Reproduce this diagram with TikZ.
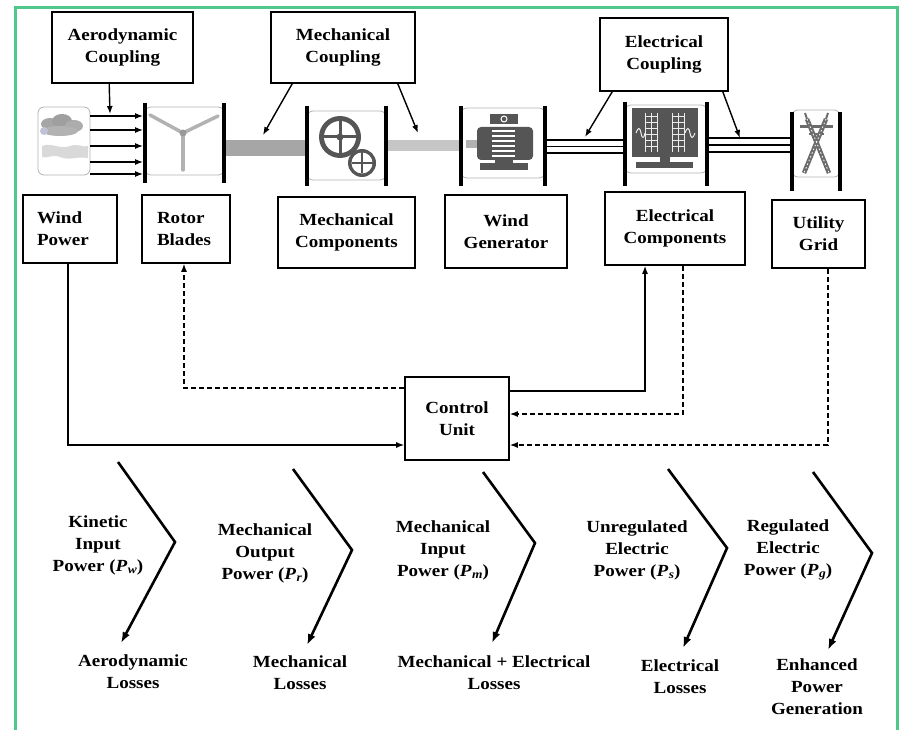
\documentclass[tikz,border=0pt]{standalone}
\usepackage{fontspec}
\setmainfont{Liberation Serif}[FakeStretch=1.12]
\usetikzlibrary{arrows.meta,calc}
\definecolor{gframe}{RGB}{80,200,140}
\definecolor{icondark}{RGB}{85,85,85}
\newcommand\PP[1]{\textit{P}\kern0.5pt\raisebox{-0.35ex}{\fontsize{12}{12}\selectfont\textit{#1}}}
\tikzset{
  txt/.style={font=\bfseries\fontsize{17}{22}\selectfont},
  blk/.style={txt, draw, line width=1.6pt, align=center, inner sep=0pt},
  lbl/.style={txt, align=center, inner sep=0pt},
  arr/.style={-{Latex[length=8pt,width=6pt]}, line width=1.4pt},
  dsh/.style={arr, dash pattern=on 5pt off 3pt},
  barline/.style={line width=4pt},
  iconframe/.style={rounded corners=6pt, draw=gray!60, line width=0.8pt},
  chev/.style={line width=2.6pt, -{Latex[length=11pt,width=8pt]}},
  wline/.style={line width=1.1pt}
}
\begin{document}
\begin{tikzpicture}[x=1pt,y=-1pt]
\useasboundingbox (0,0) rectangle (901,730);
\draw[gframe, line width=3pt] (15,730) -- (15,8) -- (897,8) -- (897,730);

% ---------- boxes ----------
\node[blk, minimum width=141pt, minimum height=71pt] (aero) at (122.5,47.5) {Aerodynamic\\Coupling};
\node[blk, minimum width=144pt, minimum height=71pt] (mechc) at (343,47.5) {Mechanical\\Coupling};
\node[blk, minimum width=128pt, minimum height=73pt] (elecc) at (664,54.5) {Electrical\\Coupling};
\node[blk, align=left, text width=66pt, inner xsep=14pt, minimum height=68pt] (wind) at (70,229) {Wind\\Power};
\node[blk, align=left, text width=58pt, inner xsep=15pt, minimum height=68pt] (rotor) at (186,229) {Rotor\\Blades};
\node[blk, minimum width=137pt, minimum height=71pt] (mechcomp) at (346.5,232.5) {Mechanical\\Components};
\node[blk, minimum width=122pt, minimum height=73pt] (gen) at (506,231.5) {Wind\\Generator};
\node[blk, minimum width=140pt, minimum height=73pt] (eleccomp) at (675,228.5) {Electrical\\Components};
\node[blk, minimum width=93pt, minimum height=68pt] (grid) at (818.5,234) {Utility\\Grid};
\node[blk, minimum width=104pt, minimum height=83pt] (ctrl) at (457,418.5) {Control\\Unit};

% ---------- icons ----------
% wind / cloud
\node[iconframe, minimum width=52pt, minimum height=68pt, inner sep=0pt] (cloud) at (64,141) {};
\fill[gray!70] (50,124) ellipse (9pt and 6pt);
\fill[gray!75] (62,121) ellipse (10pt and 7pt);
\fill[gray!65] (74,126) ellipse (9pt and 6pt);
\fill[gray!60] (60,131) ellipse (18pt and 5pt);
\fill[blue!20!gray!40] (44,131) ellipse (4pt and 4pt);
\fill[gray!30] (42,146) .. controls (52,142) and (60,150) .. (70,146) .. controls (78,143) and (84,148) .. (88,146) -- (88,158) .. controls (78,156) and (70,161) .. (60,157) .. controls (52,154) and (46,159) .. (42,157) -- cycle;
\foreach \yy in {116,130,146,162,174}
  \draw[arr, line width=1.1pt] (cloud.east |- 0,\yy) -- (143,\yy);
% rotor
\draw[iconframe] (145,107) rectangle (224,175);
\draw[gray!60, line width=3.5pt, line cap=round] (183,133) -- (150,115);
\draw[gray!60, line width=3.5pt, line cap=round] (183,133) -- (218,116);
\draw[gray!60, line width=3.5pt, line cap=round] (183,133) -- (183,170);
\fill[gray!80] (183,133) circle (3.5pt);
\draw[barline] (145,103) -- (145,183);
\draw[barline] (224,103) -- (224,183);
% dark shaft
\fill[gray!70] (226,140) rectangle (306,156);
% gear box
\draw[iconframe] (307,111) rectangle (386,180);
\fill[icondark] (340,137) circle (21pt);
\fill[white] (340,137) circle (16pt);
\draw[icondark, line width=3pt] (324,137) -- (356,137) (340,121) -- (340,153);
\fill[icondark] (340,137) circle (3.5pt);
\fill[icondark] (362,163) circle (14pt);
\fill[white] (362,163) circle (10.5pt);
\draw[icondark, line width=2.5pt] (351.5,163) -- (372.5,163) (362,152.5) -- (362,173.5);
\draw[barline] (307,106) -- (307,186);
\draw[barline] (386,106) -- (386,186);
% light shaft
\fill[gray!45] (388,140) rectangle (459,151);
% generator
\draw[iconframe] (461,108) rectangle (545,178);
\fill[gray!60] (466,140) rectangle (478,148);
\fill[icondark, rounded corners=4pt] (477,127) rectangle (533,160);
\foreach \yy in {131,136,141,146,151,156}
  \draw[white, line width=1.6pt] (492,\yy) -- (515,\yy);
\fill[icondark] (490,114) rectangle (518,124);
\draw[white, line width=1pt] (504,119) circle (3pt);
\fill[icondark] (495,159) rectangle (513,164);
\fill[icondark] (480,163) rectangle (528,170);
\draw[barline] (461,106) -- (461,186);
\draw[barline] (545,106) -- (545,186);
% triple lines (gen -> electrical)
\foreach \yy in {140,146.5,153}
  \draw[wline] (547,\yy) -- (623,\yy);
% electrical components icon
\draw[iconframe] (625,105) rectangle (707,173);
\fill[icondark] (632,108) rectangle (698,157);
\foreach \xx in {645,651,657,672,678,684}
  \draw[white!85!gray, line width=0.9pt] (\xx,113) -- (\xx,152);
\foreach \yy in {116,122,128,134,140,146}
  \draw[white!85!gray, line width=0.9pt] (645,\yy) -- (657,\yy) (672,\yy) -- (684,\yy);
\draw[white!85!gray, line width=1pt] (636,133) .. controls (638,127) and (640,127) .. (641,133) .. controls (642,139) and (644,139) .. (645,133);
\draw[white!85!gray, line width=1pt] (685,133) .. controls (687,127) and (689,127) .. (690,133) .. controls (691,139) and (693,139) .. (695,133);
\fill[icondark] (660,157) rectangle (670,162);
\fill[icondark] (636,162) rectangle (693,168);
\draw[barline] (625,102) -- (625,186);
\draw[barline] (707,102) -- (707,186);
% triple lines (electrical -> grid)
\foreach \yy in {138,145,152}
  \draw[wline] (709,\yy) -- (790,\yy);
% grid tower
\draw[iconframe] (792,110) rectangle (840,177);
\draw[gray!85!black, line width=4.5pt] (807,119) -- (829,173);
\draw[gray!85!black, line width=4.5pt] (826,119) -- (804,173);
\draw[gray!85!black, line width=3pt] (800,127) -- (833,127);
\draw[gray!85!black, line width=2.5pt] (809,134) -- (824,134);
\draw[gray!85!black, line width=2pt] (807,119) -- (805,113) (826,119) -- (828,113);
\draw[white, line width=0.8pt, dash pattern=on 1.5pt off 2.5pt] (807,119) -- (829,173) (826,119) -- (804,173);
\draw[barline] (792,112) -- (792,191);
\draw[barline] (840,112) -- (840,191);

% ---------- coupling arrows ----------
\coordinate (aeroTip) at (110,114);
\coordinate (mechL) at (263,135);
\coordinate (mechR) at (418,133);
\coordinate (elecL) at (585,137);
\coordinate (elecR) at (740,138);
\draw[arr] ([xshift=58pt]aero.south west) -- (aeroTip);
\draw[arr] ([xshift=22pt]mechc.south west) -- (mechL);
\draw[arr] ([xshift=-18pt]mechc.south east) -- (mechR);
\draw[arr] ([xshift=13pt]elecc.south west) -- (elecL);
\draw[arr] ([xshift=-6pt]elecc.south east) -- (elecR);

% ---------- control connectors ----------
\draw[arr] ([xshift=-2pt]wind.south) |- ([yshift=-26.5pt]ctrl.west);
\draw[dsh] ([yshift=30.5pt]ctrl.west) -| ([xshift=-2pt]rotor.south);
\draw[arr] ([yshift=27.5pt]ctrl.east) -| ([xshift=-30pt]eleccomp.south);
\draw[dsh] ([xshift=8pt]eleccomp.south) |- ([yshift=4.5pt]ctrl.east);
\draw[dsh] ([xshift=9.5pt]grid.south) |- ([yshift=-26.5pt]ctrl.east);

% ---------- power flow ----------
\node[lbl] (k1) at (98,545) {Kinetic\\Input\\Power (\PP{w})};
\node[lbl] (k2) at (265,553) {Mechanical\\Output\\Power (\PP{r})};
\node[lbl] (k3) at (443,550) {Mechanical\\Input\\Power (\PP{m})};
\node[lbl] (k4) at (637,550) {Unregulated\\Electric\\Power (\PP{s})};
\node[lbl] (k5) at (788,550) {Regulated\\Electric\\Power (\PP{g})};
\node[lbl] (l1) at (133,672) {Aerodynamic\\Losses};
\node[lbl] (l2) at (300,673) {Mechanical\\Losses};
\node[lbl] (l3) at (494,673) {Mechanical + Electrical\\Losses};
\node[lbl] (l4) at (680,677) {Electrical\\Losses};
\node[lbl] (l5) at (817,687) {Enhanced\\Power\\Generation};

\coordinate (c1s) at (118,462); \coordinate (c1v) at (175,542); \coordinate (c1e) at (121,643);
\coordinate (c2s) at (293,469); \coordinate (c2v) at (352,550); \coordinate (c2e) at (307,645);
\coordinate (c3s) at (483,472); \coordinate (c3v) at (535,543); \coordinate (c3e) at (492,643);
\coordinate (c4s) at (668,469); \coordinate (c4v) at (727,548); \coordinate (c4e) at (683,648);
\coordinate (c5s) at (813,472); \coordinate (c5v) at (872,553); \coordinate (c5e) at (828,650);
\draw[chev] (c1s) -- (c1v) -- (c1e);
\draw[chev] (c2s) -- (c2v) -- (c2e);
\draw[chev] (c3s) -- (c3v) -- (c3e);
\draw[chev] (c4s) -- (c4v) -- (c4e);
\draw[chev] (c5s) -- (c5v) -- (c5e);
\end{tikzpicture}
\end{document}
